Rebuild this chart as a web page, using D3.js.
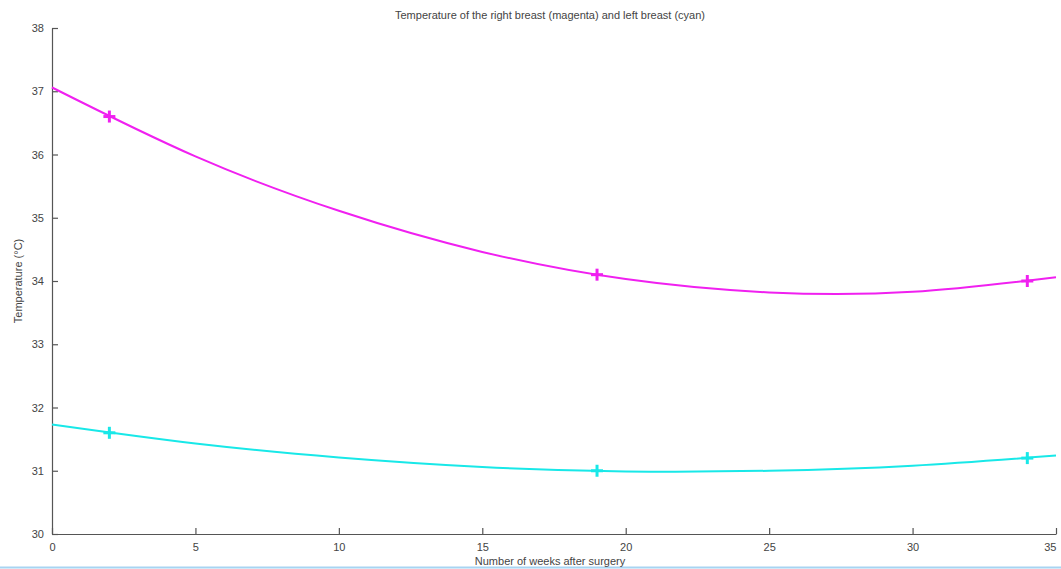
<!DOCTYPE html>
<html><head><meta charset="utf-8">
<script src="https://cdn.jsdelivr.net/npm/d3@7"></script>
<style>
body{margin:0;background:#fff;}
text{font-family:"Liberation Sans",Arial,sans-serif;fill:#444;}
</style></head>
<body><svg id="c" width="1061" height="569"></svg>
<script>
const weeks = [0, 5, 10, 15, 20, 25, 30, 35];
const rightBreast = [37.06, 35.97, 35.11, 34.46, 34.03, 33.82, 33.83, 34.06];
const leftBreast = [31.73, 31.43, 31.21, 31.06, 30.99, 31.00, 31.08, 31.24];
const measWeeks = [2, 19, 34];
const rightMeas = [36.6, 34.1, 34.0];
const leftMeas = [31.6, 31.0, 31.2];
const xTicks = [0, 5, 10, 15, 20, 25, 30, 35];
const yTicks = [30, 31, 32, 33, 34, 35, 36, 37, 38];

const svg = d3.select("#c");
const x = d3.scaleLinear().domain([0, 35]).range([52, 1056]);
const y = d3.scaleLinear().domain([30, 38]).range([534, 28]);

// bottom border line
svg.append("line").attr("x1",0).attr("x2",1061).attr("y1",567.5).attr("y2",567.5)
  .attr("stroke","#a8d4f2").attr("stroke-width",2);

const xa = svg.append("g").attr("transform","translate(0,534)")
  .call(d3.axisBottom(x).tickValues(xTicks).tickSizeInner(-6).tickSizeOuter(0).tickPadding(9));
const ya = svg.append("g").attr("transform","translate(52,0)")
  .call(d3.axisLeft(y).tickValues(yTicks).tickSizeInner(-6).tickSizeOuter(0).tickPadding(8));
[xa, ya].forEach(a => {
  a.selectAll("path,line").attr("stroke","#555").attr("stroke-width",1.2);
  a.selectAll("text").attr("font-size",11).attr("fill","#555").style("font-family","Liberation Sans, Arial, sans-serif");
});
xa.selectAll(".tick").filter(d => d === 35).select("text").attr("text-anchor","end").attr("x",0);

const line = d3.line().x(d => x(d[0])).y(d => y(d[1])).curve(d3.curveNatural);
const series = [
  {vals: rightBreast, meas: rightMeas, color: "#f020f0"},
  {vals: leftBreast, meas: leftMeas, color: "#18e8e8"}
];
series.forEach(s => {
  svg.append("path").datum(weeks.map((w,i)=>[w, s.vals[i]]))
    .attr("d", line).attr("fill","none").attr("stroke", s.color).attr("stroke-width",2);
  const g = svg.append("g");
  measWeeks.forEach((w,i) => {
    const cx = x(w), cy = y(s.meas[i]);
    g.append("line").attr("x1",cx-6).attr("x2",cx+6).attr("y1",cy).attr("y2",cy)
      .attr("stroke", s.color).attr("stroke-width",3);
    g.append("line").attr("x1",cx).attr("x2",cx).attr("y1",cy-6).attr("y2",cy+6)
      .attr("stroke", s.color).attr("stroke-width",3);
  });
});

svg.append("text").attr("x",550).attr("y",19).attr("text-anchor","middle").attr("font-size",11)
  .text("Temperature of the right breast (magenta) and left breast (cyan)");
svg.append("text").attr("x",550).attr("y",565).attr("text-anchor","middle").attr("font-size",11)
  .text("Number of weeks after surgery");
svg.append("text").attr("transform","translate(22,281) rotate(-90)").attr("text-anchor","middle").attr("font-size",11)
  .text("Temperature (°C)");
</script></body></html>
